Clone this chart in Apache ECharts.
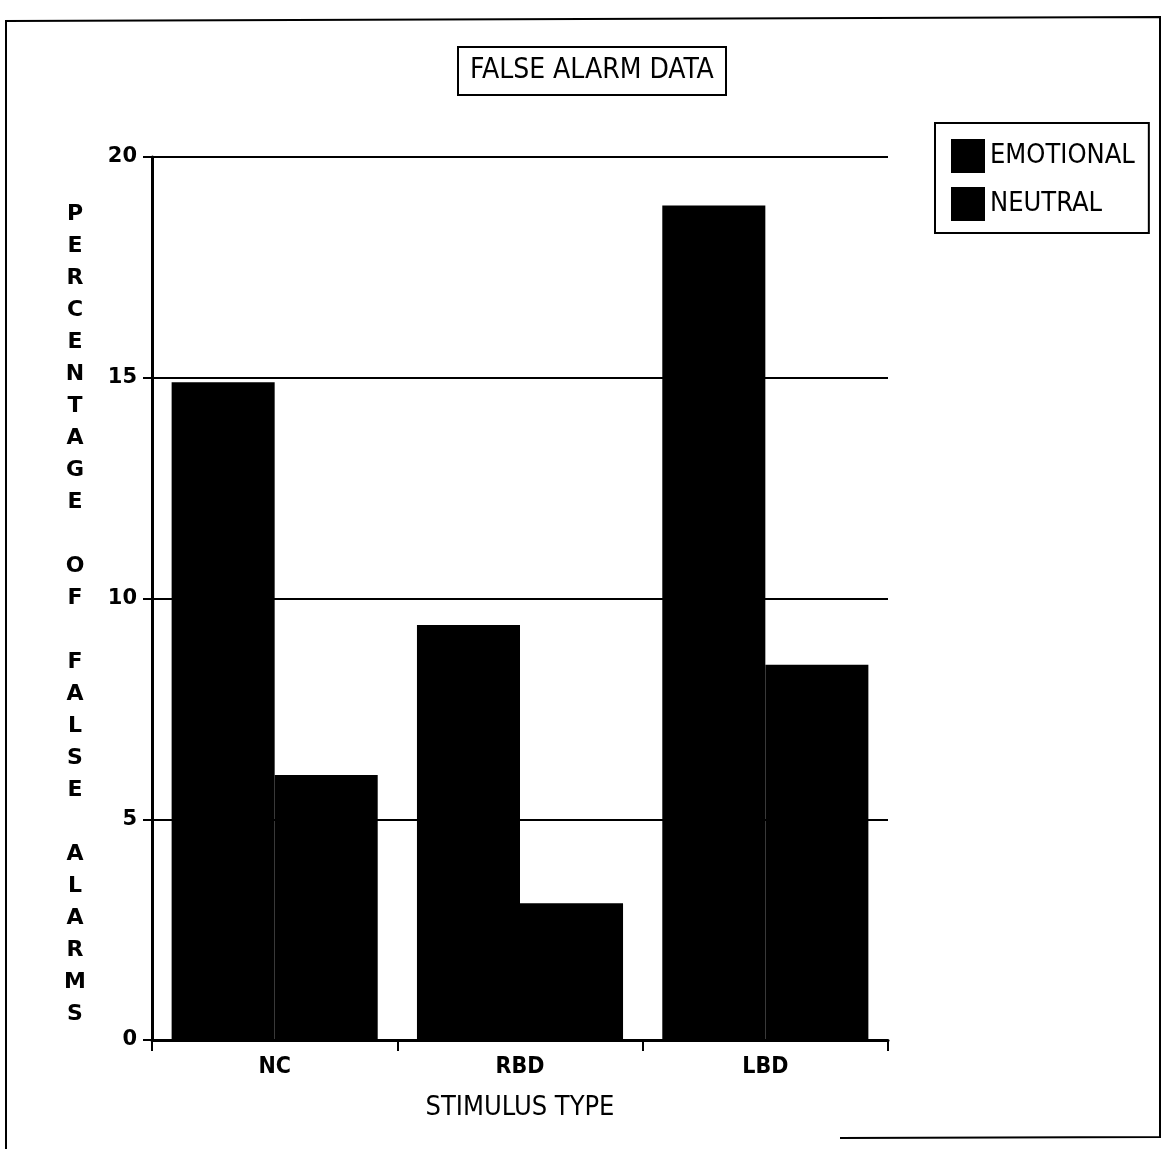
<!DOCTYPE html>
<html>
<head>
<meta charset="utf-8">
<script src="https://cdn.jsdelivr.net/npm/echarts@6/dist/echarts.min.js"></script>
<style>
  html, body { margin: 0; padding: 0; background: #fff; }
  #chart { width: 1164px; height: 1149px; }
</style>
</head>
<body>
<div id="chart"></div>
<script>
// False alarm percentages by stimulus type
const categories = ['NC', 'RBD', 'LBD'];
const emotional = [14.9, 9.4, 18.9];
const neutral = [6.0, 3.1, 8.5];
const yTicks = [0, 5, 10, 15, 20];
const yTitle = 'PERCENTAGE OF FALSE ALARMS';

const narrow = "'Liberation Sans Narrow', 'DejaVu Sans Condensed', 'Roboto Condensed', sans-serif";
const wide = "'DejaVu Sans', Lato, sans-serif";

// stack the axis title letter by letter; spaces become empty lines,
// and a leading empty line nudges the column down a little
const stackedTitle = '\n' + yTitle.split('').join('\n');

const chart = echarts.init(document.getElementById('chart'), null, { renderer: 'canvas' });

chart.setOption({
  backgroundColor: '#fff',
  animation: false,
  title: {
    text: 'FALSE ALARM DATA',
    left: 458,
    top: 47,
    padding: [10, 12, 10, 12],
    borderColor: '#000',
    borderWidth: 2,
    textStyle: { fontFamily: narrow, fontSize: 28, fontWeight: 'normal', color: '#000' }
  },
  legend: {
    orient: 'vertical',
    left: 935,
    top: 123,
    padding: [16, 14, 12, 16],
    borderColor: '#000',
    borderWidth: 2,
    itemWidth: 34,
    itemHeight: 34,
    itemGap: 14,
    icon: 'rect',
    textStyle: { fontFamily: narrow, fontSize: 27, color: '#000', padding: [0, 0, 0, 0] },
    data: ['EMOTIONAL', 'NEUTRAL']
  },
  grid: { left: 152, right: 276, top: 157, bottom: 109, containLabel: false },
  xAxis: {
    type: 'category',
    data: categories,
    boundaryGap: true,
    name: 'STIMULUS TYPE',
    nameLocation: 'middle',
    nameGap: 54,
    nameTextStyle: { fontFamily: narrow, fontSize: 27, color: '#000' },
    axisLine: { lineStyle: { color: '#000', width: 3 } },
    axisTick: { show: true, length: 11, lineStyle: { color: '#000', width: 2 } },
    axisLabel: { fontFamily: narrow, fontSize: 23, fontWeight: 'bold', color: '#000', margin: 16 }
  },
  yAxis: {
    type: 'value',
    min: yTicks[0],
    max: yTicks[yTicks.length - 1],
    interval: yTicks[1] - yTicks[0],
    name: stackedTitle,
    nameLocation: 'middle',
    nameRotate: 0,
    nameGap: 77,
    nameTextStyle: {
      fontFamily: wide, fontSize: 22, fontWeight: 'bold', color: '#000',
      lineHeight: 32, align: 'center'
    },
    axisLine: { show: true, lineStyle: { color: '#000', width: 3 } },
    axisTick: { show: true, length: 9, lineStyle: { color: '#000', width: 2 } },
    axisLabel: { fontFamily: wide, fontSize: 21, fontWeight: 'bold', color: '#000', margin: 15 },
    splitLine: { show: true, lineStyle: { color: '#000', width: 2 } }
  },
  series: [
    {
      name: 'EMOTIONAL',
      type: 'bar',
      data: emotional,
      barGap: '0%',
      barCategoryGap: '16%',
      itemStyle: { color: '#000' }
    },
    {
      name: 'NEUTRAL',
      type: 'bar',
      data: neutral,
      barGap: '0%',
      barCategoryGap: '16%',
      itemStyle: { color: '#000' }
    }
  ],
  graphic: [
    // outer frame: top, left and right edges, with a short stretch along the bottom right
    { type: 'polyline', shape: { points: [[6, 1149], [6, 21], [1160, 17], [1160, 1137], [840, 1138]] },
      style: { stroke: '#000', lineWidth: 2, fill: null }, silent: true }
  ]
});
</script>
</body>
</html>
